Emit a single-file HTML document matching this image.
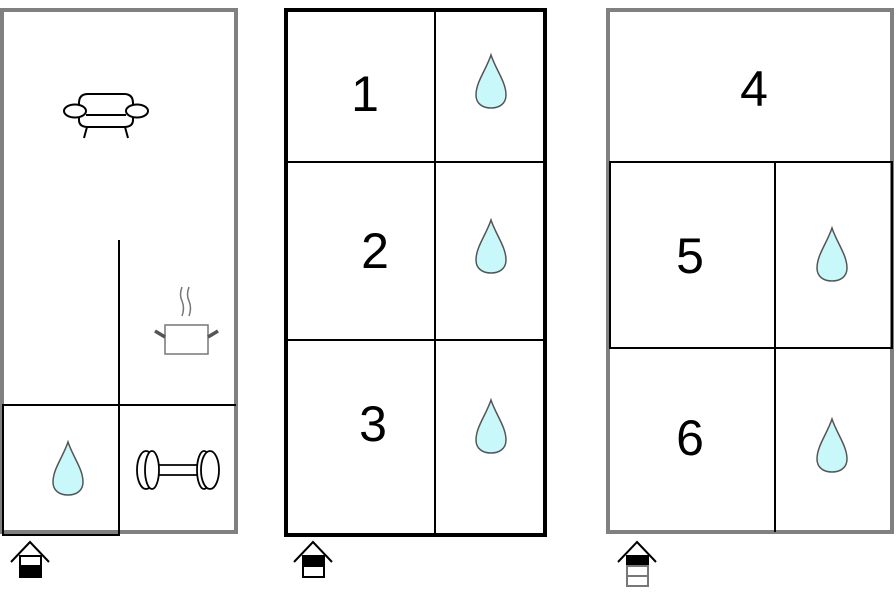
<!DOCTYPE html>
<html><head><style>body{margin:0;background:#fff}svg{display:block}text{font-family:"Liberation Sans",sans-serif;font-size:50px;fill:#000;text-anchor:middle}</style></head><body>
<svg width="896" height="597" viewBox="0 0 896 597" xmlns="http://www.w3.org/2000/svg">
<defs>
<path id="drop" d="M0,-33 C5,-18 15,-6 15,7 C15,16 8,20 0,20 C-8,20 -15,16 -15,7 C-15,-6 -5,-18 0,-33 Z" fill="#c9f8fb" stroke="#555" stroke-width="1.5"/>
</defs>
<!-- Panel 1 -->
<rect x="2" y="10" width="234" height="522" fill="none" stroke="#808080" stroke-width="4"/>
<line x1="119" y1="240" x2="119" y2="535" stroke="#000" stroke-width="2"/>
<line x1="3" y1="405" x2="236" y2="405" stroke="#000" stroke-width="2"/>
<rect x="3" y="405" width="116" height="130" fill="none" stroke="#000" stroke-width="2"/>
<use href="#drop" x="68" y="475"/>
<!-- sofa -->
<g fill="#fff" stroke="#000" stroke-width="2">
<path d="M79,103 Q79,94 88,94 H124 Q133,94 133,103 V120 Q133,127 124,127 H88 Q79,127 79,120 Z"/>
<line x1="87" y1="127" x2="84" y2="138"/><line x1="125" y1="127" x2="128" y2="138"/>
<line x1="86" y1="115" x2="126" y2="115"/>
<ellipse cx="75" cy="111" rx="11" ry="6.5"/><ellipse cx="137" cy="111" rx="11" ry="6.5"/>
</g>
<!-- pot -->
<g stroke="#777" fill="none" stroke-width="1.5">
<path d="M182,287 q-3,8 0,14 q3,7 0,15"/><path d="M189,287 q-3,8 0,14 q3,7 0,15"/>
<rect x="165" y="325" width="43" height="29" fill="#fff"/>
<line x1="155" y1="331" x2="165" y2="337" stroke-width="3.5" stroke="#555"/>
<line x1="218" y1="331" x2="208" y2="337" stroke-width="3.5" stroke="#555"/>
</g>
<!-- dumbbell -->
<g fill="#fff" stroke="#000" stroke-width="1.8">
<rect x="150" y="465" width="56" height="10" rx="3"/>
<ellipse cx="146" cy="470" rx="9" ry="19"/><ellipse cx="152" cy="470" rx="7" ry="19"/>
<ellipse cx="204" cy="470" rx="7" ry="19"/><ellipse cx="210" cy="470" rx="9" ry="19"/>
</g>
<!-- Panel 2 -->
<rect x="286" y="10" width="259" height="525" fill="none" stroke="#000" stroke-width="4"/>
<line x1="435" y1="10" x2="435" y2="535" stroke="#000" stroke-width="2"/>
<line x1="286" y1="162" x2="545" y2="162" stroke="#000" stroke-width="2"/>
<line x1="286" y1="340" x2="545" y2="340" stroke="#000" stroke-width="2"/>
<text x="365" y="111">1</text><text x="375" y="268">2</text><text x="373" y="441">3</text>
<use href="#drop" x="491" y="88"/><use href="#drop" x="491" y="253"/><use href="#drop" x="491" y="433"/>
<!-- Panel 3 -->
<rect x="608" y="10" width="284" height="522" fill="none" stroke="#808080" stroke-width="4"/>
<rect x="610" y="162" width="282" height="186" fill="none" stroke="#000" stroke-width="2"/>
<line x1="775" y1="162" x2="775" y2="532" stroke="#000" stroke-width="2"/>
<text x="754" y="106">4</text><text x="690" y="273">5</text><text x="690" y="455">6</text>
<use href="#drop" x="832" y="261"/><use href="#drop" x="832" y="452"/>
<!-- houses -->
<g stroke="#000" stroke-width="2" fill="none">
<polyline points="11,562 30,542 49,562"/>
<rect x="20" y="556" width="21" height="10" fill="#fff"/><rect x="20" y="566" width="21" height="11" fill="#000"/>
<polyline points="294,562 313,542 332,562"/>
<rect x="303" y="556" width="21" height="10" fill="#000"/><rect x="303" y="566" width="21" height="11" fill="#fff"/>
<polyline points="618,562 637,542 656,562"/>
<rect x="627" y="556" width="21" height="10" fill="#000"/><rect x="627" y="566" width="21" height="10" fill="#fff" stroke="#777"/><rect x="627" y="576" width="21" height="10" fill="#fff" stroke="#777"/>
</g>
</svg>
</body></html>
